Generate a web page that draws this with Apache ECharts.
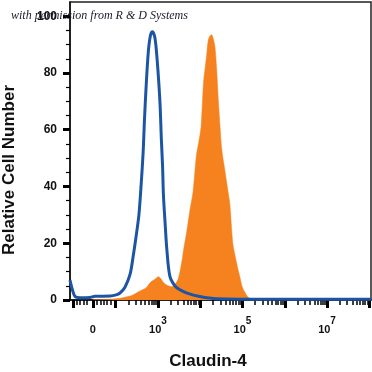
<!DOCTYPE html>
<html><head><meta charset="utf-8">
<script src="https://cdn.jsdelivr.net/npm/echarts@6/dist/echarts.min.js"></script>
<style>html,body{margin:0;padding:0;background:#fff}#c{width:372px;height:372px}</style>
</head><body><div id="c"></div>
<script>
// x positions are in display "decade" units of the biexponential axis (10^3 -> 3)
const isotypeX = [0.92,0.97,1.04,1.16,1.39,1.51,1.87,2.03,2.10,2.22,2.34,2.41,2.48,2.55,2.60,2.65,2.68,2.72,2.77,2.82,2.87,2.92,2.95,3.00,3.05,3.08,3.11,3.13,3.17,3.21,3.28,3.40,3.52,3.69,3.99,4.39,4.94,6.36,8.04];
const isotypeY = [7,4,1.2,0.8,0.9,1.3,1.4,1.9,2.4,4.5,9,15,22,30,40,52,63,75,87,93,94.5,93,90,81,69,57,47,37,27,18,8.5,5,3.6,2.4,1.2,0.4,0.3,0.3,0.3];
const claudinX = [1.46,1.87,2.10,2.29,2.41,2.53,2.62,2.72,2.83,2.93,3.01,3.07,3.14,3.24,3.32,3.40,3.48,3.56,3.61,3.68,3.76,3.83,3.91,3.97,4.02,4.05,4.08,4.11,4.15,4.19,4.23,4.27,4.31,4.35,4.39,4.43,4.47,4.51,4.58,4.66,4.70,4.77,4.82,4.89,4.94,4.99,5.06,5.13,5.22,5.32,8.04];
const claudinY = [0.1,0.3,0.6,1.2,1.8,2.8,3.5,4.3,6.3,7.3,8.2,7.5,6,5,4.7,5.5,7.5,13,18,24,32,38,51,56,61,69,77,81,86,91.5,93,93.5,92,89,81,70,61,53,46,38,34,20,16,11,8,4.8,2.6,1,0.4,0,0];
const xLabelValues = [1.46, 3, 5, 7];
const xLabelBase = ['0', '10', '10', '10'];
const xLabelSup = ['\u200b', '3', '5', '7'];
const xMajorTicks = [1, 1.46, 2, 3, 4, 5, 6, 7, 8];
const yLabelValues = [0, 20, 40, 60, 80, 100];
const yMinorTicks = [5,10,15,25,30,35,45,50,55,65,70,75,85,90,95];

const xMinorTicks = [1.08,1.16,1.24,1.32,1.56,1.64,1.72,1.8,1.88];
for (let d = 2; d <= 7; d++) for (let k = 2; k <= 9; k++) xMinorTicks.push(d + Math.log10(k));

const pairs = (xs, ys) => xs.map((x, i) => [x, ys[i]]);
const XMIN = 0.92, XMAX = 8.04;
const font = 'Liberation Sans';
const chart = echarts.init(document.getElementById('c'), null, {renderer: 'canvas'});
chart.setOption({
  animation: false,
  grid: {left: 70, right: 1, top: 2, bottom: 72, show: true, borderColor: '#222', borderWidth: 1.5, backgroundColor: '#fff'},
  xAxis: [{
    type: 'value', min: XMIN, max: XMAX, position: 'bottom',
    axisLine: {show: true, lineStyle: {color: '#111', width: 1.5}},
    splitLine: {show: false},
    axisTick: {show: true, customValues: xMajorTicks, length: 8, lineStyle: {color: '#000', width: 3}},
    axisLabel: {
      customValues: xLabelValues, margin: 22, color: '#111',
      fontFamily: font, fontWeight: 'bold', fontSize: 11,
      formatter: v => { const i = xLabelValues.indexOf(v); return i < 0 ? '' : '{n|' + xLabelBase[i] + '}{s|' + xLabelSup[i] + '}'; },
      rich: {
        n: {fontFamily: font, fontWeight: 'bold', fontSize: 11, color: '#111', verticalAlign: 'bottom', lineHeight: 13},
        s: {fontFamily: font, fontWeight: 'bold', fontSize: 10, verticalAlign: 'bottom', padding: [0, 0, 9, 0], lineHeight: 11, color: '#111'}
      }
    }
  }, {
    type: 'value', min: XMIN, max: XMAX, position: 'bottom',
    axisLine: {show: false}, splitLine: {show: false}, axisLabel: {show: false},
    axisTick: {show: true, customValues: xMinorTicks, length: 5, lineStyle: {color: '#000', width: 1.5}}
  }],
  yAxis: [{
    type: 'value', min: 0, max: 105,
    axisLine: {show: true, lineStyle: {color: '#111', width: 1.5}},
    splitLine: {show: false},
    axisTick: {show: true, customValues: yLabelValues, length: 7, lineStyle: {color: '#000', width: 3}},
    axisLabel: {customValues: yLabelValues, margin: 13, color: '#111', fontFamily: font, fontWeight: 'bold', fontSize: 12}
  }, {
    type: 'value', min: 0, max: 105, position: 'left',
    axisLine: {show: false}, splitLine: {show: false}, axisLabel: {show: false},
    axisTick: {show: true, customValues: yMinorTicks, length: 4, lineStyle: {color: '#000', width: 1.2}}
  }],
  series: [{
    name: 'Claudin-4', type: 'line', data: pairs(claudinX, claudinY), showSymbol: false, smooth: 0.3,
    lineStyle: {width: 0.5, color: '#f5821f'}, areaStyle: {color: '#f5821f', opacity: 1}, z: 2
  }, {
    name: 'Isotype', type: 'line', data: pairs(isotypeX, isotypeY), showSymbol: false, smooth: 0.3,
    lineStyle: {width: 3, color: '#1d55a5'}, z: 3
  }],
  graphic: [
    {type: 'text', left: 11, top: 10, z: 100, style: {text: 'with permission from R & D Systems', font: 'italic 12px "Liberation Serif"', fill: '#1a1a2a'}},
    {type: 'text', x: 208, y: 361, style: {text: 'Claudin-4', font: 'bold 17px "' + font + '"', fill: '#111', align: 'center', verticalAlign: 'middle'}},
    {type: 'text', x: 9, y: 170, rotation: Math.PI / 2, style: {text: 'Relative Cell Number', font: 'bold 17px "' + font + '"', fill: '#111', align: 'center', verticalAlign: 'middle'}}
  ]
});
</script></body></html>
